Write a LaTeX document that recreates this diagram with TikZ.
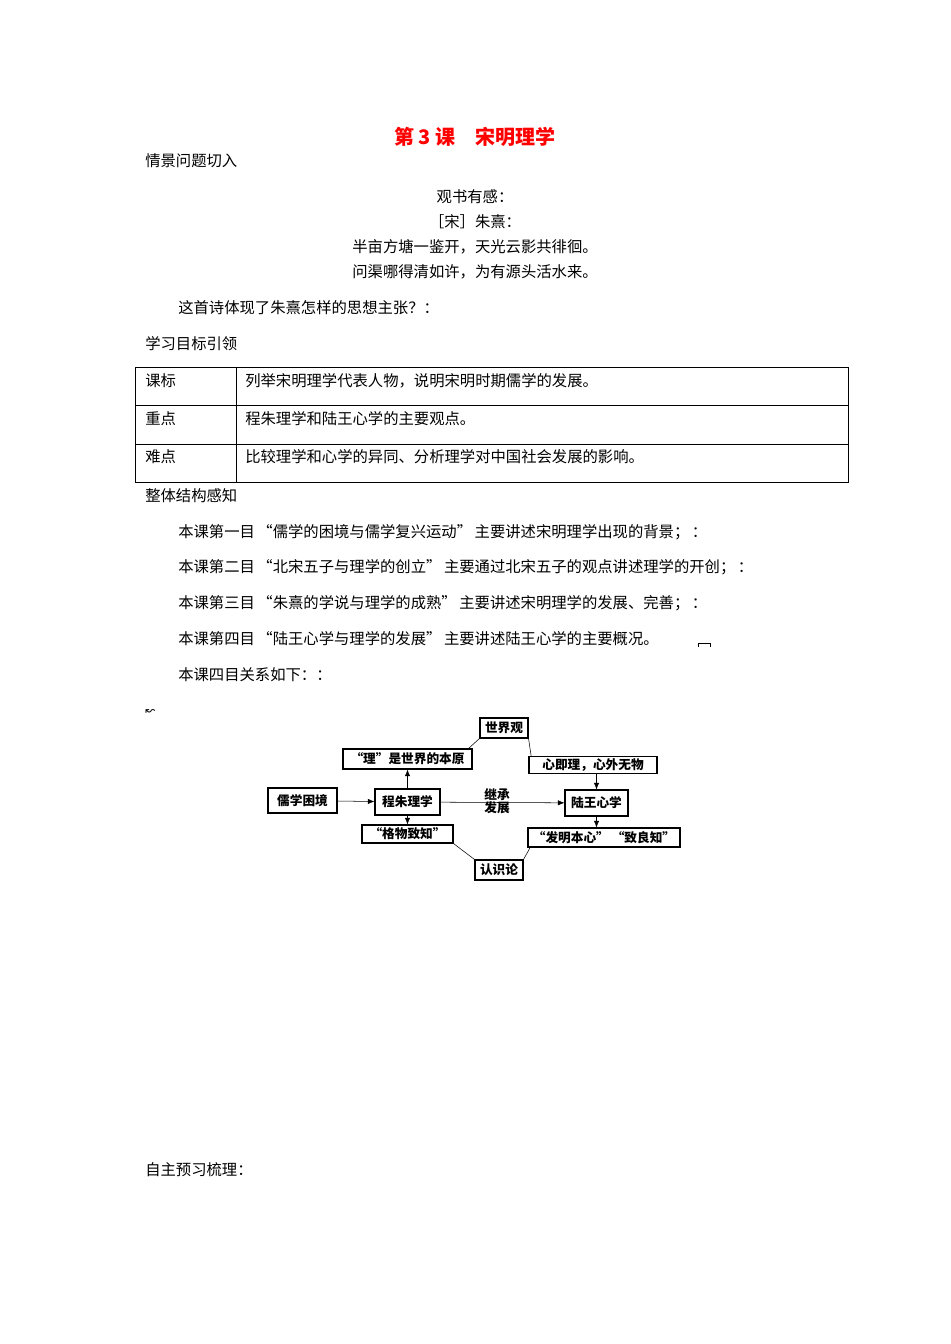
\documentclass[tikz,border=0pt]{standalone}
\usepackage{fontspec}
\setmainfont{Noto Sans CJK SC}
\newfontfamily\dv{DejaVu Sans}
\usetikzlibrary{arrows.meta}
\begin{document}
\begin{tikzpicture}[x=0.75pt,y=-0.75pt,
  txt/.style={anchor=west,inner sep=0pt,font=\fontsize{11.5}{13}\selectfont},
  ctr/.style={inner sep=0pt,font=\fontsize{11.5}{13}\selectfont},
  bx/.style={draw,thick,inner sep=0pt,font=\bfseries\fontsize{9.5}{11}\selectfont},
  arr/.style={-{Latex[length=5pt,width=4pt]}},
  lnk/.style={thin}]
\useasboundingbox (0,0) rectangle (950,1344);
\node[ctr,text=red,font=\bfseries\fontsize{15}{18}\selectfont] (title) at (475,137) {第 3 课\quad 宋明理学};
\node[txt] (s1) at (145,161) {情景问题切入};
\node[ctr] (p1) at (475,197) {观书有感：};
\node[ctr] (p2) at (475,222) {［宋］朱熹：};
\node[ctr] (p3) at (475,247) {半亩方塘一鉴开，天光云影共徘徊。};
\node[ctr] (p4) at (475,272) {问渠哪得清如许，为有源头活水来。};
\node[txt] (q) at (178,308) {这首诗体现了朱熹怎样的思想主张？：};
\node[txt] (s2) at (145,344) {学习目标引领};
\draw[thin] (135,367) rectangle (848,482);
\draw[thin] (135,405) -- (848,405) (135,444) -- (848,444) (236,367) -- (236,482);
\node[txt] (t1a) at (145,381) {课标};
\node[txt] (t1b) at (245,381) {列举宋明理学代表人物，说明宋明时期儒学的发展。};
\node[txt] (t2a) at (145,419) {重点};
\node[txt] (t2b) at (245,419) {程朱理学和陆王心学的主要观点。};
\node[txt] (t3a) at (145,457) {难点};
\node[txt] (t3b) at (245,457) {比较理学和心学的异同、分析理学对中国社会发展的影响。};
\node[txt] (s3) at (145,496) {整体结构感知};
\node[txt] (l1) at (178,532) {本课第一目\,“儒学的困境与儒学复兴运动”\,主要讲述宋明理学出现的背景；\,：};
\node[txt] (l2) at (178,567) {本课第二目\,“北宋五子与理学的创立”\,主要通过北宋五子的观点讲述理学的开创；\,：};
\node[txt] (l3) at (178,603) {本课第三目\,“朱熹的学说与理学的成熟”\,主要讲述宋明理学的发展、完善；\,：};
\node[txt] (l4) at (178,639) {本课第四目\,“陆王心学与理学的发展”\,主要讲述陆王心学的主要概况。};
\draw[thin] (698,647) -- (698,643) -- (710,643) -- (710,647);
\node[txt] (l5) at (178,675) {本课四目关系如下：：};
% diagram
\node[bx,minimum width=36pt,minimum height=15pt] (sjg) at (504,728) {世界观};
\node[bx,minimum width=96.75pt,minimum height=15pt] (li) at (407.5,759) {“理”是世界的本原};
\node[bx,minimum width=96pt,minimum height=12.75pt] (xjl) at (593,765) {心即理，心外无物};
\node[bx,minimum width=51.75pt,minimum height=18.75pt] (rx) at (302.5,800.5) {儒学困境};
\node[bx,minimum width=48.75pt,minimum height=19.5pt] (cz) at (407.5,802) {程朱理学};
\node[bx,minimum width=47.25pt,minimum height=19.5pt] (lw) at (596.5,803) {陆王心学};
\node[bx,minimum width=68.25pt,minimum height=13.5pt] (gw) at (407.5,834) {“格物致知”};
\node[bx,minimum width=114pt,minimum height=14.25pt] (fm) at (604,837.5) {“发明本心”\ “致良知”};
\node[bx,minimum width=36pt,minimum height=15pt] (rsl) at (499,870) {认识论};
\node[inner sep=0pt,font=\bfseries\fontsize{9.5}{11}\selectfont,align=center] (jc) at (497,801) {继承\\[-1pt]发展};
\draw[arr] (rx) -- (cz);
\draw[arr] (cz) -- (li);
\draw[arr] (cz) -- (gw);
\draw[arr] (cz) -- (lw);
\draw[arr] (xjl.south -| lw) -- (lw);
\draw[arr] (lw) -- (fm.north -| lw);
\draw[lnk] (sjg.south west) -- ([xshift=-3pt]li.north east);
\draw[lnk] (sjg.south east) -- ([xshift=2pt]xjl.north west);
\draw[lnk] (gw.south east) -- (rsl.north west);
\draw[lnk] ([xshift=2pt]fm.south west) -- (rsl.north east);
\node[txt,font=\dv\fontsize{9}{10}\selectfont] (ic) at (145,712) {↜};
\node[txt] (s4) at (145,1170) {自主预习梳理：};
\end{tikzpicture}
\end{document}
